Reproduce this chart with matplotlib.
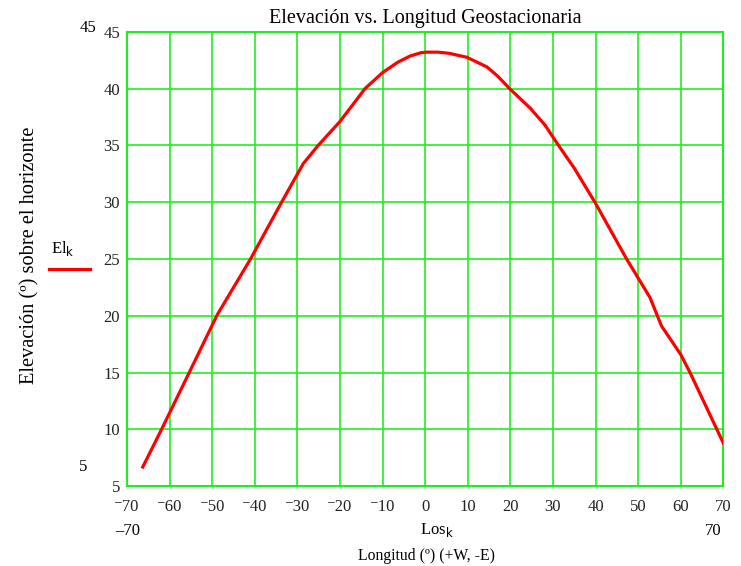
import numpy as np
import matplotlib
matplotlib.use('Agg')
import matplotlib.pyplot as plt

# longitud del satelite (+W, -E) y elevacion sobre el horizonte
los = [-66.3, -61.9, -55.4, -48.8, -41.0, -33.7, -28.6, -25.1, -20.0, -14.1,
       -10.0, -6.5, -3.6, -1.0, 0.5, 3.0, 5.6, 9.8, 14.5, 17.0, 19.8, 24.6,
       28.1, 31.3, 35.0, 40.0, 47.3, 52.8, 55.5, 60.0, 62.2, 68.5, 70.0]
el = [6.7, 10.0, 15.0, 20.1, 25.0, 30.0, 33.4, 35.0, 37.1, 40.0,
      41.4, 42.3, 42.85, 43.15, 43.2, 43.2, 43.1, 42.75, 41.9, 41.1, 40.0, 38.3,
      36.8, 35.0, 33.0, 29.9, 25.0, 21.6, 19.1, 16.6, 15.0, 10.0, 8.8]

xticks = list(range(-70, 71, 10))
yticks = list(range(5, 46, 5))

green = '#1ef01e'
W, H = 741, 566

plt.rcParams['font.family'] = ['Liberation Serif', 'DejaVu Serif']

fig = plt.figure(figsize=(W / 100, H / 100), dpi=100)
ax = fig.add_axes([127 / W, 1 - 486.3 / H, (723.3 - 127) / W, (486.3 - 31.7) / H])

ax.plot(los, el, color='#ff0000', lw=2.3, solid_joinstyle='round', zorder=3)

ax.set_xlim(-70, 70)
ax.set_ylim(5, 45)
ax.set_xticks(xticks)
ax.set_yticks(yticks)
ax.set_xticklabels([('\u207b' + str(-v)) if v < 0 else str(v) for v in xticks], fontsize=12)
ax.set_yticklabels([str(v) for v in yticks], fontsize=12)
ax.tick_params(axis='x', length=0, pad=9, colors='#222222')
ax.tick_params(axis='y', length=0, pad=5, colors='#222222')
ax.grid(True, color=green, lw=1.2)
for s in ax.spines.values():
    s.set_color(green)
    s.set_linewidth(1.5)

# titulo y etiquetas
fig.text(425 / W, 1 - 18 / H, 'Elevación vs. Longitud Geostacionaria',
         ha='center', va='center', fontsize=14.5)
fig.text(30 / W, 1 - 255 / H, 'Elevación (º) sobre el horizonte',
         ha='center', va='center', rotation=90, fontsize=14.7)
fig.text(437 / W, 1 - 530 / H, 'Los$_{\\mathrm{k}}$', ha='center', va='center', fontsize=12)
fig.text(426 / W, 1 - 556 / H, 'Longitud (º) (+W, -E)', ha='center', va='center', fontsize=11.3)

# limites del grafico
fig.text(88 / W, 1 - 28 / H, '45', ha='center', va='center', fontsize=12)
fig.text(83 / W, 1 - 467 / H, '5', ha='center', va='center', fontsize=12)
fig.text(128 / W, 1 - 531 / H, '\u201270', ha='center', va='center', fontsize=12)
fig.text(713 / W, 1 - 531 / H, '70', ha='center', va='center', fontsize=12)

# leyenda
fig.text(63 / W, 1 - 248 / H, 'El$_{\\mathrm{k}}$', ha='center', va='center', fontsize=12)
fig.add_artist(plt.Line2D([49 / W, 90 / W], [1 - 269 / H, 1 - 269 / H],
                          color='#ff0000', lw=2.3, transform=fig.transFigure))

fig.savefig('out.png', dpi=100, facecolor='white')
